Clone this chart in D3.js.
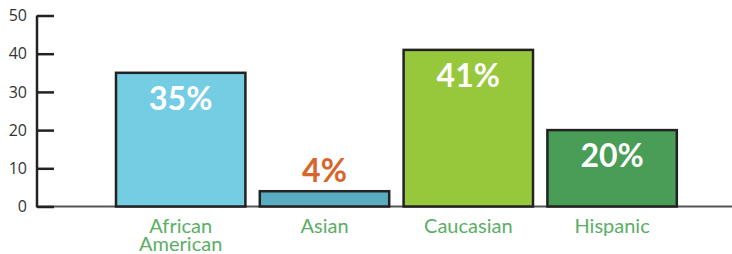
<!DOCTYPE html>
<html><head><meta charset="utf-8">
<script src="https://cdn.jsdelivr.net/npm/d3@7"></script>
<style>body{margin:0;background:#fff}svg{display:block}</style>
</head><body>
<script>
const categories = ["African American", "Asian", "Caucasian", "Hispanic"];
const values = [35, 4, 41, 20];
const labels = ["35%", "4%", "41%", "20%"];
const colors = ["#75cde3", "#5aacc1", "#97c83c", "#4a9d56"];
const yTicks = [0, 10, 20, 30, 40, 50];

const W = 732, H = 254;
const svg = d3.select("body").append("svg").attr("width", W).attr("height", H);

const y = d3.scaleLinear().domain([0, 50]).range([206.5, 15.5]);
const x = d3.scaleBand().domain(categories).range([108.8, 684]).paddingInner(0.1).paddingOuter(0.05);

// baseline
svg.append("line").attr("x1", 37).attr("x2", W).attr("y1", y(0)).attr("y2", y(0))
  .attr("stroke", "#555").attr("stroke-width", 2);

// y axis
const ax = svg.append("g").attr("transform", "translate(37,0)")
  .call(d3.axisRight(y).tickValues(yTicks).tickSize(17).tickFormat(""));
ax.select(".domain").attr("stroke", "#222").attr("stroke-width", 2.5).attr("d", `M0,${y(50)}V${y(0)+1}`);
ax.selectAll(".tick line").attr("stroke", "#222").attr("stroke-width", 2.5);
svg.append("g").selectAll("text").data(yTicks).join("text")
  .attr("x", 27).attr("y", d => y(d)).attr("dy", "0.36em")
  .attr("text-anchor", "end").attr("font-family", "Open Sans").attr("font-size", 16)
  .attr("fill", "#333").text(d => d);

// bars
svg.append("g").selectAll("rect").data(values).join("rect")
  .attr("x", (d, i) => x(categories[i]))
  .attr("y", d => y(d))
  .attr("width", x.bandwidth())
  .attr("height", d => y(0) - y(d))
  .attr("fill", (d, i) => colors[i])
  .attr("stroke", "#222").attr("stroke-width", 2.5);

// value labels
svg.append("g").selectAll("text").data(values).join("text")
  .attr("x", (d, i) => x(categories[i]) + x.bandwidth() / 2)
  .attr("y", d => d < 10 ? y(d) - 9 : y(d) + 37)
  .attr("text-anchor", "middle").attr("font-family", "Lato").attr("font-weight", "bold")
  .attr("font-size", 32)
  .attr("fill", d => d < 10 ? "#d8642b" : "#fff")
  .text((d, i) => labels[i]);

// category labels
const cat = svg.append("g").selectAll("text").data(categories).join("text")
  .attr("x", d => x(d) + x.bandwidth() / 2)
  .attr("y", 233)
  .attr("text-anchor", "middle").attr("font-family", "Lato")
  .attr("font-size", 20)
  .attr("fill", "#5bae64");
cat.each(function(d) {
  const words = d.split(" ");
  const t = d3.select(this);
  words.forEach((w, j) => t.append("tspan").attr("x", x(d) + x.bandwidth() / 2).attr("dy", j ? 18 : 0).text(w));
});
</script>
</body></html>
